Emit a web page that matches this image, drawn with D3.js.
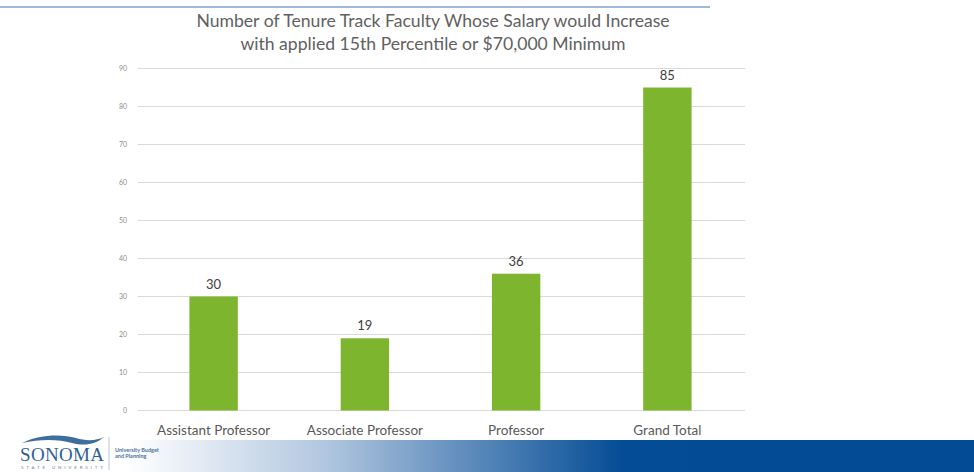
<!DOCTYPE html>
<html>
<head>
<meta charset="utf-8">
<script src="https://cdn.jsdelivr.net/npm/d3@7.9.0/dist/d3.min.js"></script>
<style>
  body { margin: 0; background: #fff; }
  svg { display: block; }
  text { font-family: Lato, "Open Sans", sans-serif; }
</style>
</head>
<body>
<svg id="chart" width="974" height="472"></svg>
<script>
// data
const categories = ["Assistant Professor", "Associate Professor", "Professor", "Grand Total"];
const counts = [30, 19, 36, 85];
const yTicks = [0, 10, 20, 30, 40, 50, 60, 70, 80, 90];
const titleLines = [
  "Number of Tenure Track Faculty Whose Salary would Increase",
  "with applied 15th Percentile or $70,000 Minimum"
];

const svg = d3.select('#chart');
const margin = { top: 68.5, left: 138, right: 231, bottom: 61.5 };
const width = 974, height = 472;

const x = d3.scaleBand()
  .domain(categories)
  .range([margin.left, width - margin.right])
  .paddingInner(0.68)
  .paddingOuter(0.34);

const y = d3.scaleLinear()
  .domain([0, 90])
  .range([height - margin.bottom, margin.top]);

/* slide decoration */
const defs = svg.append('defs');
const grad = defs.append('linearGradient').attr('id', 'band')
  .attr('x1', '0%').attr('x2', '100%').attr('y1', '0%').attr('y2', '0%');
grad.append('stop').attr('offset', '13%').attr('stop-color', '#ffffff');
grad.append('stop').attr('offset', '33%').attr('stop-color', '#b3c8e0');
grad.append('stop').attr('offset', '64%').attr('stop-color', '#044c95');
grad.append('stop').attr('offset', '100%').attr('stop-color', '#034b94');

svg.append('rect')
  .attr('x', 0).attr('y', 440).attr('width', width).attr('height', 32)
  .attr('fill', 'url(#band)');

svg.append('line')
  .attr('x1', 0).attr('x2', 710).attr('y1', 7).attr('y2', 7)
  .attr('stroke', '#9fb9d8').attr('stroke-width', 2);

// logo
const logo = svg.append('g');
logo.append('path')
  .attr('d', 'M22,443 C40,434 62,434 76,438 C86,441 96,441 104,437 C95,445 84,446 72,443 C58,439 40,439 22,443 Z')
  .attr('fill', '#3d6e9e');
logo.append('text')
  .attr('x', 62).attr('y', 461)
  .attr('text-anchor', 'middle')
  .style('font-family', '"Liberation Serif", "DejaVu Serif", serif')
  .attr('font-size', 19)
  .attr('fill', '#2f5f92')
  .attr('textLength', 84)
  .text('SONOMA');
logo.append('text')
  .attr('x', 62).attr('y', 469)
  .attr('text-anchor', 'middle')
  .attr('font-size', 4.5)
  .attr('textLength', 82)
  .attr('fill', '#6a86a6')
  .text('STATE UNIVERSITY');
logo.append('line')
  .attr('x1', 109).attr('x2', 109).attr('y1', 437).attr('y2', 470)
  .attr('stroke', '#b7c6d6').attr('stroke-width', 1);
logo.append('text')
  .attr('x', 115).attr('y', 452)
  .attr('font-size', 5.5).attr('font-weight', 'bold')
  .attr('fill', '#4a72a0')
  .text('University Budget');
logo.append('text')
  .attr('x', 115).attr('y', 458)
  .attr('font-size', 5.5).attr('font-weight', 'bold')
  .attr('fill', '#4a72a0')
  .text('and Planning');

/* title */
svg.append('g')
  .selectAll('text')
  .data(titleLines)
  .join('text')
  .attr('x', 433)
  .attr('y', (d, i) => 27 + i * 23)
  .attr('text-anchor', 'middle')
  .attr('font-size', 17.6)
  .attr('fill', '#616161')
  .text(d => d);

/* grid + y axis */
svg.append('g')
  .selectAll('line')
  .data(yTicks)
  .join('line')
  .attr('x1', margin.left)
  .attr('x2', width - margin.right + 2)
  .attr('y1', d => y(d))
  .attr('y2', d => y(d))
  .attr('stroke', '#d9d9d9')
  .attr('stroke-width', 1);

svg.append('g')
  .selectAll('text')
  .data(yTicks)
  .join('text')
  .attr('x', 127)
  .attr('y', d => y(d) + 2.5)
  .attr('text-anchor', 'end')
  .attr('font-size', 7)
  .attr('fill', '#8c8c8c')
  .text(d => d);

/* bars */
svg.append('g')
  .selectAll('rect')
  .data(counts)
  .join('rect')
  .attr('x', (d, i) => x(categories[i]))
  .attr('y', d => y(d))
  .attr('width', x.bandwidth())
  .attr('height', d => y(0) - y(d))
  .attr('fill', '#7db52f');

// value labels
svg.append('g')
  .selectAll('text')
  .data(counts)
  .join('text')
  .attr('x', (d, i) => x(categories[i]) + x.bandwidth() / 2)
  .attr('y', d => y(d) - 8)
  .attr('text-anchor', 'middle')
  .attr('font-size', 13)
  .attr('fill', '#404040')
  .text(d => d);

// category labels
svg.append('g')
  .selectAll('text')
  .data(categories)
  .join('text')
  .attr('x', d => x(d) + x.bandwidth() / 2)
  .attr('y', 435)
  .attr('text-anchor', 'middle')
  .attr('font-size', 13.5)
  .attr('fill', '#595959')
  .text(d => d);
</script>
</body>
</html>
